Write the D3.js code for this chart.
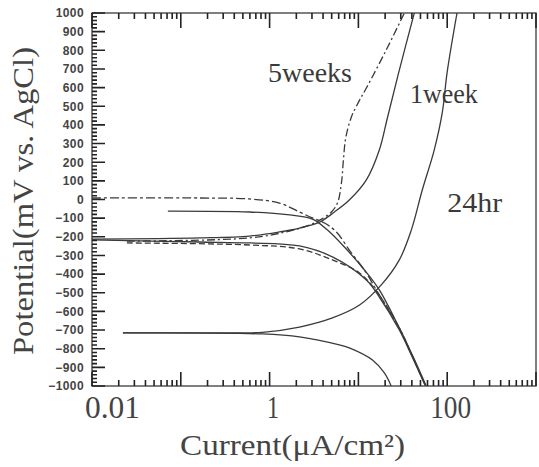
<!DOCTYPE html>
<html><head><meta charset="utf-8">
<script src="https://cdn.jsdelivr.net/npm/d3@7"></script>
<style>body{margin:0;background:#fff}</style>
</head><body>
<svg id="c" width="539" height="467"></svg>
<script>
// ---- data (current in uA/cm2, potential in mV vs AgCl) ----
const hr24AnodicI = [0.0223, 0.163, 0.83, 2.17, 5.1, 10.3, 18.1, 28.9, 39.4, 52.4, 71.4, 87.9, 100, 129];
const hr24AnodicE = [-715, -715, -712, -684, -635, -566, -458, -324, -164, 51, 265, 464, 684, 1000];
const hr24CathodicI = [0.0223, 0.83, 2.17, 6.1, 7.9, 14.4, 19.6, 23.4];
const hr24CathodicE = [-715, -721, -737, -780, -796, -861, -930, -1000];

const week1AnodicI = [0.01, 0.163, 0.595, 1.29, 2.17, 3.65, 5.37, 7.9, 12.3, 17.2, 21.2, 28.9, 42.6];
const week1AnodicE = [-212, -206, -196, -174, -153, -121, -67, -3, 105, 265, 437, 694, 1000];
const week1CathodicI = [0.01, 0.163, 0.595, 2.17, 5.1, 12.3, 17.2, 28.9, 40.4, 57];
const week1CathodicE = [-217, -228, -233, -249, -308, -432, -523, -700, -845, -1000];
const week1OcpI = [0.0715, 0.595, 1.68, 3.04, 4.49, 6.96, 11.7, 17.2, 28.9, 41.5, 58];
const week1OcpE = [-62, -67, -83, -105, -164, -255, -378, -485, -689, -845, -1000];

const week5AnodicI = [0.0247, 0.595, 1.68, 2.81, 3.84, 4.97, 5.81, 6.44, 6.78, 7.2, 8.3, 9.9, 12.3, 20.6, 32.9];
const week5AnodicE = [-223, -206, -169, -137, -105, -67, -19, 88, 212, 330, 440, 517, 598, 802, 1000];
const week5CathodicI = [0.0247, 0.595, 2.17, 5.1, 10.3, 16.5, 28.9, 40.4, 57];
const week5CathodicE = [-233, -244, -265, -324, -394, -501, -689, -839, -1000];
const week5OcpI = [0.01, 0.163, 0.595, 1.29, 2.17, 3.04, 4.15, 5.66, 7.9, 12.3, 15.9, 28.9, 40.4, 57];
const week5OcpE = [8, 8, 3, -19, -67, -99, -126, -174, -271, -394, -485, -689, -839, -1000];

const yMajorTicks = d3.range(-1000, 1001, 100);
const xLabelTicks = [0.01, 1, 100];
const labels = [
  {text: "5weeks", i: 0.96, e: 630},
  {text: "1week", i: 38, e: 517},
  {text: "24hr", i: 100, e: -67}
];

const svg = d3.select("#c");
const L = 92, R = 536, T = 13, B = 386;
const x = d3.scaleLog().domain([0.01, 1000]).range([L, R]);
const y = d3.scaleLinear().domain([-1000, 1000]).range([B, T]);
const ink = "#222";
const serif = "'Liberation Serif','DejaVu Serif',serif";

const xMinor = [], xMajor = [];
for (let k = -2; k <= 3; k++) {
  xMajor.push(Math.pow(10, k));
  if (k < 3) for (let m = 2; m <= 9; m++) xMinor.push(m * Math.pow(10, k));
}
const yMinor = d3.range(-1000, 1001, 20).filter(v => v % 100 !== 0);

// frame
svg.append("rect").attr("x", L).attr("y", T).attr("width", R - L).attr("height", B - T)
  .attr("fill", "none").attr("stroke", "#2a2a2a").attr("stroke-width", 1.2);

// left labels
const gl = svg.append("g").attr("transform", `translate(${L},0)`)
  .call(d3.axisLeft(y).tickValues(yMajorTicks).tickSize(0).tickPadding(8).tickFormat(d3.format("d")));
gl.select(".domain").remove();
gl.selectAll("text").attr("font-family", "'Liberation Sans',Arial,sans-serif")
  .attr("font-weight", "bold").attr("font-size", 12).attr("fill", "#444")
  .attr("letter-spacing", 0.4);

// bottom labels
const gb = svg.append("g").attr("transform", `translate(0,${B})`)
  .call(d3.axisBottom(x).tickValues(xLabelTicks).tickSize(0).tickPadding(9)
    .tickFormat(d => d < 1 ? "0.01" : d3.format("d")(d)));
gb.select(".domain").remove();
gb.selectAll("text").attr("font-family", serif).attr("font-size", 32).attr("fill", "#444")
  .attr("lengthAdjust", "spacingAndGlyphs")
  .attr("textLength", d => d < 1 ? 55 : (d === 1 ? 12 : 41))
  .attr("dx", d => d < 1 ? 20 : 3);

svg.append("clipPath").attr("id", "clip").append("rect")
  .attr("x", L).attr("y", T).attr("width", R - L).attr("height", B - T);

const series = [
  {I: hr24AnodicI, E: hr24AnodicE, dash: null},
  {I: hr24CathodicI, E: hr24CathodicE, dash: null},
  {I: week1AnodicI, E: week1AnodicE, dash: null},
  {I: week1CathodicI, E: week1CathodicE, dash: null},
  {I: week1OcpI, E: week1OcpE, dash: null},
  {I: week5AnodicI, E: week5AnodicE, dash: "8,3,2,3"},
  {I: week5CathodicI, E: week5CathodicE, dash: "6,3"},
  {I: week5OcpI, E: week5OcpE, dash: "9,3,3,3"}
];
const line = d3.line().x(d => x(d[0])).y(d => y(d[1])).curve(d3.curveCatmullRom.alpha(0.5));
const gc = svg.append("g").attr("clip-path", "url(#clip)");
series.forEach(s => {
  gc.append("path").datum(s.I.map((v, k) => [v, s.E[k]]))
    .attr("d", line).attr("fill", "none").attr("stroke", "#3a3a3a")
    .attr("stroke-width", 1.3).attr("stroke-dasharray", s.dash);
});

const lw = {"5weeks": 84, "1week": 68, "24hr": 55};
labels.forEach(l => {
  svg.append("text").attr("x", x(l.i)).attr("y", y(l.e))
    .attr("font-family", serif).attr("font-size", 27).attr("fill", "#3a3a3a")
    .attr("textLength", lw[l.text]).attr("lengthAdjust", "spacingAndGlyphs")
    .text(l.text);
});

svg.append("text").attr("x", 180).attr("y", 455)
  .attr("font-family", serif).attr("font-size", 30).attr("fill", "#444")
  .attr("textLength", 225).attr("lengthAdjust", "spacingAndGlyphs")
  .text("Current(\u03bcA/cm\u00b2)");
svg.append("text").attr("transform", "translate(33,201) rotate(-90)")
  .attr("text-anchor", "middle")
  .attr("font-family", serif).attr("font-size", 30).attr("fill", "#444")
  .attr("textLength", 308).attr("lengthAdjust", "spacingAndGlyphs")
  .text("Potential(mV vs. AgCl)");

// inward ticks, drawn last so they sit on top, positioned by the scales
const gt = svg.append("g").attr("stroke", ink).attr("stroke-width", 1.6).attr("fill", "none");
gt.append("path").attr("d",
  yMinor.map(v => `M${L},${y(v)}L${L + 5},${y(v)}`).join("") +
  yMajorTicks.map(v => `M${L},${y(v)}L${L + 13},${y(v)}`).join("") +
  xMinor.map(v => `M${x(v)},${B}L${x(v)},${B - 6}M${x(v)},${T}L${x(v)},${T + 6}`).join("") +
  xMajor.map(v => `M${x(v)},${B}L${x(v)},${B - 14}M${x(v)},${T}L${x(v)},${T + 15}`).join(""));
</script>
</body></html>
